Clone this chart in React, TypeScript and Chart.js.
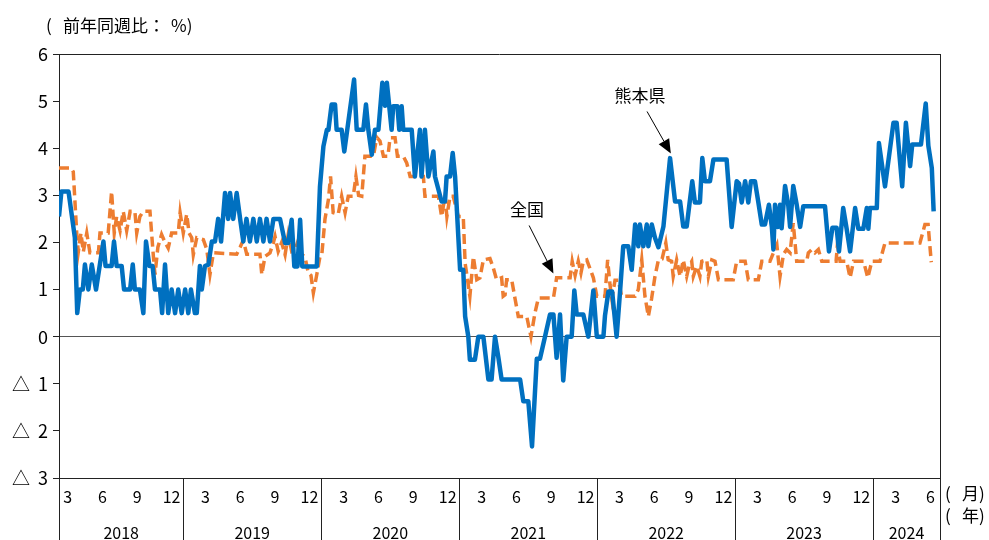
import React, { useEffect, useRef } from "react";
import { Chart, registerables } from "chart.js";

Chart.register(...registerables);

// ---- data -------------------------------------------------------------
// x = weeks since the first observation (week of 2018-02-06)
const FIRST_WEEK = "2018-02-06";
const X_MAX_WEEKS = 333.2;

// 熊本県 (vertices of the weekly line, week index / % y-o-y)
const kumamotoWeeks = [
  0.0, 0.9, 3.6, 6.0, 6.9, 7.9, 9.0, 9.8, 11.1, 12.4, 14.0, 16.8, 17.6, 19.9, 20.8, 21.8, 23.7, 24.6, 26.9, 27.9,
  28.7, 30.6, 31.9, 32.9, 34.2, 35.4, 36.3, 38.2, 39.0, 40.1, 41.3, 42.6, 43.9, 45.1, 46.4, 47.7, 48.9, 49.9, 51.4, 52.1,
  53.3, 54.0, 55.2, 56.5, 57.8, 59.0, 60.2, 61.3, 62.8, 64.0, 64.7, 65.9, 67.2, 68.5, 69.7, 70.9, 72.2, 73.5, 74.8, 76.0,
  77.3, 78.5, 79.8, 81.1, 83.6, 85.5, 86.7, 88.0, 89.0, 90.2, 91.2, 92.0, 97.5, 98.7, 100.0, 101.3, 101.9, 103.1, 104.4, 105.0,
  106.9, 107.9, 111.6, 112.6, 115.1, 116.1, 117.0, 118.3, 119.5, 120.8, 122.3, 123.3, 124.0, 125.8, 126.4, 128.0, 128.7, 129.6, 130.2, 133.4,
  134.6, 136.5, 137.1, 138.4, 139.7, 141.6, 142.2, 144.7, 146.0, 146.6, 147.9, 148.9, 149.8, 151.7, 152.9, 153.6, 154.8, 155.4, 157.3, 158.6,
  160.5, 162.4, 163.6, 164.9, 166.2, 167.4, 174.4, 175.6, 177.5, 178.9, 180.7, 181.9, 183.8, 185.7, 187.0, 188.2, 189.5, 190.7, 192.0, 193.9,
  194.9, 195.8, 198.3, 200.2, 202.1, 203.4, 205.9, 206.5, 207.8, 209.2, 210.9, 212.2, 213.4, 215.3, 216.6, 217.9, 219.1, 219.7, 221.0, 222.3,
  222.9, 224.2, 225.4, 226.7, 228.6, 231.1, 233.0, 234.9, 236.1, 237.4, 239.5, 240.5, 242.4, 243.3, 244.3, 246.2, 247.5, 252.5, 254.4, 256.3,
  257.2, 258.2, 259.5, 260.7, 261.7, 263.2, 264.5, 265.8, 267.0, 268.5, 269.6, 270.2, 270.8, 271.8, 272.7, 273.3, 274.6, 275.8, 276.5, 277.7,
  279.0, 280.3, 281.5, 289.7, 291.2, 292.5, 294.1, 295.0, 296.6, 297.9, 299.2, 301.1, 302.3, 304.2, 305.5, 306.1, 306.7, 309.3, 310.1, 312.4,
  315.6, 316.8, 318.9, 320.3, 321.9, 322.7, 326.0, 327.8, 328.8, 330.1, 330.8,
];
const kumamotoValues = [
  2.55, 3.08, 3.08, 2.1, 0.5, 1.0, 1.0, 1.53, 1.0, 1.53, 1.0, 2.02, 1.5, 1.5, 2.02, 1.5, 1.5, 1.0, 1.0, 1.53,
  1.0, 1.0, 0.5, 2.02, 1.5, 1.5, 1.0, 1.0, 0.5, 1.53, 0.5, 1.0, 0.5, 1.0, 0.5, 1.0, 0.5, 1.0, 0.5, 0.5,
  1.5, 1.0, 1.5, 1.53, 2.02, 2.02, 2.5, 2.02, 3.05, 2.5, 3.05, 2.5, 3.05, 2.5, 2.02, 2.5, 2.02, 2.5, 2.02, 2.5,
  2.02, 2.5, 2.02, 2.5, 2.5, 1.99, 1.99, 2.48, 1.49, 1.49, 2.48, 1.49, 1.49, 3.19, 4.04, 4.39, 4.39, 4.93, 4.93, 4.39,
  4.39, 3.93, 5.46, 4.39, 4.39, 4.93, 4.39, 3.86, 4.39, 4.39, 5.39, 4.9, 5.39, 4.39, 4.89, 4.89, 4.39, 4.89, 4.39, 4.39,
  3.4, 4.39, 3.4, 4.39, 3.4, 3.93, 3.4, 2.87, 2.87, 3.4, 3.4, 3.9, 3.4, 1.42, 1.42, 0.43, 0.0, -0.49, -0.49, 0.0,
  0.0, -0.91, -0.91, 0.0, -0.45, -0.91, -0.91, -1.37, -1.37, -2.33, -0.47, -0.47, 0.0, 0.47, 0.47, -0.45, 0.47, -0.93, 0.0, 0.0,
  0.98, 0.47, 0.47, 0.0, 0.98, 0.0, 0.0, 0.45, 0.96, 0.96, 0.0, 0.96, 1.92, 1.92, 1.42, 2.38, 1.92, 2.38, 1.92, 2.38,
  1.92, 2.38, 2.1, 1.9, 2.34, 3.79, 2.87, 2.87, 2.34, 2.34, 3.3, 2.85, 2.85, 3.79, 3.3, 3.3, 3.76, 3.76, 2.33, 3.3,
  3.25, 2.85, 3.3, 2.85, 3.3, 3.3, 2.85, 2.38, 2.38, 2.8, 2.33, 1.85, 2.8, 2.33, 2.8, 2.3, 3.2, 2.8, 2.33, 3.2,
  2.8, 2.33, 2.77, 2.77, 1.81, 2.31, 2.31, 1.81, 2.73, 2.29, 1.81, 2.73, 2.29, 2.29, 2.73, 2.29, 2.73, 2.73, 4.11, 3.19,
  4.54, 4.54, 3.19, 4.54, 3.62, 4.08, 4.08, 4.95, 4.05, 3.58, 2.66,
];

// 全国
const zenkokuWeeks = [
  0.0, 4.5, 5.4, 6.7, 7.3, 8.3, 9.2, 10.5, 11.7, 14.9, 15.5, 18.6, 19.9, 20.9, 21.8, 23.1, 24.3, 25.6, 26.9, 28.7,
  29.4, 30.6, 31.9, 34.4, 35.7, 36.3, 37.4, 38.8, 40.1, 41.3, 42.6, 45.1, 45.8, 47.0, 48.3, 49.2, 50.2, 50.8, 52.1, 54.6,
  55.9, 57.1, 58.4, 67.2, 68.5, 69.7, 71.0, 76.0, 76.7, 77.9, 79.8, 81.1, 81.7, 82.9, 84.2, 85.5, 86.7, 88.0, 89.3, 90.5,
  91.8, 93.0, 94.3, 95.3, 96.2, 97.5, 98.7, 99.4, 100.6, 101.9, 102.7, 103.7, 105.6, 106.9, 108.2, 109.4, 111.3, 112.3, 113.3, 114.5,
  115.7, 118.9, 120.2, 121.4, 122.7, 124.4, 125.2, 127.1, 128.0, 130.2, 131.5, 132.8, 137.8, 138.4, 143.5, 144.7, 146.0, 146.7, 147.9, 149.1,
  151.0, 152.9, 153.6, 155.4, 156.7, 158.0, 159.2, 160.5, 163.0, 164.3, 165.5, 167.4, 168.0, 168.7, 169.3, 171.2, 172.5, 173.7, 176.9, 178.5,
  180.0, 181.3, 187.0, 188.2, 193.3, 194.1, 195.2, 196.4, 197.4, 198.3, 199.6, 200.8, 202.1, 203.4, 206.5, 207.5, 208.4, 209.1, 210.3, 211.5,
  212.8, 217.9, 219.1, 220.4, 221.6, 222.9, 224.1, 225.4, 226.7, 228.1, 229.5, 230.4, 231.7, 232.3, 233.6, 234.9, 236.1, 237.4, 238.3, 239.3,
  239.9, 241.2, 242.4, 243.1, 245.0, 245.6, 246.9, 248.1, 249.4, 255.0, 256.3, 259.5, 260.7, 264.5, 265.8, 268.9, 270.2, 271.5, 272.7, 274.0,
  275.2, 276.5, 277.7, 279.0, 282.8, 283.4, 284.7, 285.9, 287.2, 288.5, 293.9, 294.4, 295.4, 297.9, 299.2, 300.5, 304.3, 305.9, 307.4, 310.5,
  312.4, 325.6, 327.5, 328.7, 329.9,
];
const zenkokuValues = [
  3.58, 3.58, 3.5, 2.2, 1.8, 2.2, 1.8, 2.2, 1.78, 1.78, 2.2, 2.2, 3.08, 2.2, 2.55, 2.25, 2.66, 2.25, 2.66, 2.66,
  2.2, 2.55, 2.66, 2.66, 1.7, 1.32, 1.9, 2.17, 2.0, 1.88, 2.2, 2.2, 2.63, 2.2, 2.6, 2.2, 2.1, 1.74, 2.1, 2.06,
  1.85, 1.32, 1.78, 1.75, 1.9, 2.05, 1.75, 1.75, 1.32, 1.7, 1.78, 2.0, 2.13, 1.81, 2.0, 1.74, 2.17, 1.81, 1.85, 2.05,
  1.74, 1.7, 1.35, 1.3, 0.93, 1.32, 1.7, 1.74, 2.5, 2.91, 3.4, 2.63, 2.6, 2.98, 2.63, 2.98, 2.98, 3.4, 3.0, 2.98,
  3.83, 3.83, 4.23, 4.15, 3.83, 3.83, 4.22, 4.22, 3.83, 3.83, 3.69, 3.4, 3.4, 2.98, 2.98, 2.55, 2.98, 2.55, 2.98, 2.98,
  2.55, 2.55, 1.56, 0.86, 1.7, 1.21, 1.25, 1.63, 1.66, 1.45, 1.21, 1.25, 0.86, 0.89, 1.21, 1.21, 0.8, 0.43, 0.43, 0.0,
  0.5, 0.82, 0.82, 1.25, 1.25, 1.6, 1.3, 1.6, 1.35, 1.6, 1.63, 1.45, 1.25, 0.86, 0.86, 1.63, 1.1, 0.8, 1.2, 1.2,
  0.86, 0.86, 1.0, 1.63, 0.86, 0.43, 0.8, 1.28, 1.63, 1.65, 1.99, 1.63, 1.6, 1.28, 1.63, 1.28, 1.63, 1.28, 1.5, 1.6,
  1.28, 1.5, 1.28, 1.6, 1.63, 1.28, 1.63, 1.6, 1.21, 1.21, 1.6, 1.6, 1.21, 1.21, 1.6, 1.6, 1.78, 1.95, 1.28, 1.75,
  1.85, 1.78, 2.41, 1.6, 1.6, 1.78, 1.85, 1.78, 1.85, 1.6, 1.6, 1.95, 1.6, 1.6, 1.25, 1.6, 1.6, 1.25, 1.6, 1.6,
  1.99, 1.99, 2.38, 2.38, 1.58,
];

// axis labels
const monthTicks = [
  "2018-03", "2018-06", "2018-09", "2018-12",
  "2019-03", "2019-06", "2019-09", "2019-12",
  "2020-03", "2020-06", "2020-09", "2020-12",
  "2021-03", "2021-06", "2021-09", "2021-12",
  "2022-03", "2022-06", "2022-09", "2022-12",
  "2023-03", "2023-06", "2023-09", "2023-12",
  "2024-03", "2024-06",
];
const yearLabels = ["2018", "2019", "2020", "2021", "2022", "2023", "2024"];
const yTicks = [-3, -2, -1, 0, 1, 2, 3, 4, 5, 6];

// title / unit labels, split in pieces to reproduce the original spacing
const titlePieces: [string, number][] = [["(", 46], ["前年同週比：", 63], ["%)", 171]];
const monthUnitPieces: [string, number][] = [["(", 945], ["月)", 962]];
const yearUnitPieces: [string, number][] = [["(", 945], ["年)", 962]];

// annotations in data coordinates (week index, value)
const notes = [
  { text: "熊本県", label: [219.7, 5.12], from: [222.4, 4.78], tip: [231.4, 3.89] },
  { text: "全国", label: [177.0, 2.7], from: [177.8, 2.36], tip: [187.0, 1.34] },
];

// ---- helpers ----------------------------------------------------------
const DAY = 86400000;
const startMs = Date.parse(FIRST_WEEK + "T00:00:00Z");
const weekOf = (iso: string) => (Date.parse(iso + "T00:00:00Z") - startMs) / (7 * DAY);
const monthTickValues = monthTicks.map((m) => weekOf(m + "-01"));
const monthTickLabels = monthTicks.map((m) => String(Number(m.split("-")[1])));
const yearBoundaries = yearLabels.slice(1).map((y) => weekOf(y + "-01-01"));

const FONT = "'Noto Sans CJK JP', 'Noto Sans', sans-serif";
const BLUE = "#0070C0";
const ORANGE = "#ED7D31";
const FRAME = "#222222";

const overlayPlugin = {
  id: "overlay",
  afterDraw(chart: any) {
    const { ctx, chartArea: ca, scales } = chart;
    const x = scales.x;
    const y = scales.y;
    const H = chart.height;
    ctx.save();
    ctx.strokeStyle = FRAME;
    ctx.lineWidth = 1;
    ctx.beginPath();
    ctx.moveTo(ca.left, Math.round(ca.top) + 0.5);
    ctx.lineTo(ca.right, Math.round(ca.top) + 0.5);
    const bounds = [x.min, ...yearBoundaries, x.max];
    bounds.forEach((b, i) => {
      const px = Math.round(x.getPixelForValue(b)) + 0.5;
      const top = i === bounds.length - 1 ? ca.top : ca.bottom;
      ctx.moveTo(px, top);
      ctx.lineTo(px, H);
    });
    ctx.stroke();

    // year labels
    ctx.fillStyle = "#000";
    ctx.font = `16px ${FONT}`;
    ctx.textAlign = "center";
    ctx.textBaseline = "middle";
    yearLabels.forEach((yl, i) => {
      const a = x.getPixelForValue(bounds[i]);
      const b = x.getPixelForValue(bounds[i + 1]);
      ctx.fillText(yl, (a + b) / 2, 533);
    });

    // unit labels + title
    ctx.textAlign = "left";
    ctx.font = `17px ${FONT}`;
    monthUnitPieces.forEach(([t, px]) => ctx.fillText(t, px, 494));
    yearUnitPieces.forEach(([t, px]) => ctx.fillText(t, px, 516));
    titlePieces.forEach(([t, px]) => ctx.fillText(t, px, 26));

    // annotations
    notes.forEach((n) => {
      const lx = x.getPixelForValue(n.label[0]);
      const ly = y.getPixelForValue(n.label[1]);
      ctx.font = `17px ${FONT}`;
      ctx.textAlign = "center";
      ctx.fillText(n.text, lx, ly);
      const fx = x.getPixelForValue(n.from[0]);
      const fy = y.getPixelForValue(n.from[1]);
      const tx = x.getPixelForValue(n.tip[0]);
      const ty = y.getPixelForValue(n.tip[1]);
      const ang = Math.atan2(ty - fy, tx - fx);
      const headLen = 14;
      const headW = 6;
      const bx = tx - headLen * Math.cos(ang);
      const by = ty - headLen * Math.sin(ang);
      ctx.strokeStyle = "#000";
      ctx.lineWidth = 1;
      ctx.beginPath();
      ctx.moveTo(fx, fy);
      ctx.lineTo(bx, by);
      ctx.stroke();
      ctx.beginPath();
      ctx.moveTo(tx, ty);
      ctx.lineTo(bx + headW * Math.sin(ang), by - headW * Math.cos(ang));
      ctx.lineTo(bx - headW * Math.sin(ang), by + headW * Math.cos(ang));
      ctx.closePath();
      ctx.fillStyle = "#000";
      ctx.fill();
    });
    ctx.restore();
  },
};

export default function App() {
  const ref = useRef<HTMLCanvasElement | null>(null);
  useEffect(() => {
    if (!ref.current) return;
    const chart = new Chart(ref.current, {
      type: "line",
      data: {
        datasets: [
          {
            label: "熊本県",
            data: kumamotoWeeks.map((w, i) => ({ x: w, y: kumamotoValues[i] })),
            borderColor: BLUE,
            borderWidth: 4.5,
            pointRadius: 0,
            tension: 0,
            borderJoinStyle: "round",
            order: 0,
          },
          {
            label: "全国",
            data: zenkokuWeeks.map((w, i) => ({ x: w, y: zenkokuValues[i] })),
            borderColor: ORANGE,
            borderWidth: 3.5,
            borderDash: [10, 5],
            pointRadius: 0,
            tension: 0,
            order: 1,
          },
        ],
      },
      options: {
        responsive: false,
        animation: false,
        events: [],
        layout: { padding: { top: 54, right: 49, left: 0, bottom: 0 } },
        plugins: { legend: { display: false }, tooltip: { enabled: false }, title: { display: false } },
        scales: {
          x: {
            type: "linear",
            min: 0,
            max: X_MAX_WEEKS,
            afterBuildTicks: (scale: any) => {
              scale.ticks = monthTickValues.map((v) => ({ value: v }));
            },
            afterFit: (scale: any) => {
              scale.height = 62;
            },
            ticks: {
              autoSkip: false,
              maxRotation: 0,
              minRotation: 0,
              padding: 9,
              color: "#000",
              font: { family: FONT, size: 16 },
              callback: (_v: any, i: number) => monthTickLabels[i],
            },
            grid: { display: false, drawTicks: false },
            border: { display: true, color: FRAME, width: 1 },
          },
          y: {
            min: -3,
            max: 6,
            afterBuildTicks: (scale: any) => {
              scale.ticks = yTicks.map((v) => ({ value: v }));
            },
            afterFit: (scale: any) => {
              scale.width = 59;
            },
            ticks: {
              padding: 5,
              color: "#000",
              font: { family: FONT, size: 18 },
              callback: (v: any) => (Number(v) < 0 ? "△  " + Math.abs(Number(v)) : String(v)),
            },
            grid: {
              drawOnChartArea: true,
              color: (c: any) => (c.tick && c.tick.value === 0 ? "#555555" : "rgba(0,0,0,0)"),
              tickColor: FRAME,
              tickLength: 6,
              lineWidth: 1,
            },
            border: { display: true, color: FRAME, width: 1 },
          },
        },
      },
      plugins: [overlayPlugin],
    } as any);
    return () => chart.destroy();
  }, []);
  return (
    <div style={{ position: "absolute", left: 0, top: 0, width: 989, height: 540, background: "#fff" }}>
      <canvas ref={ref} width={989} height={540} style={{ display: "block" }} />
    </div>
  );
}
